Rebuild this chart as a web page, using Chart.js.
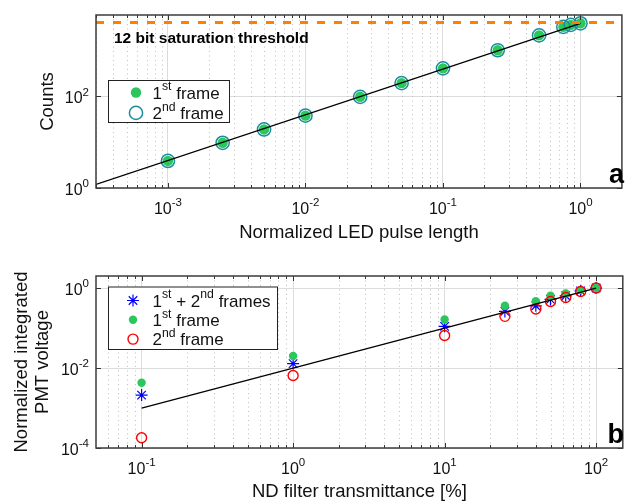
<!DOCTYPE html>
<html>
<head>
<meta charset="utf-8">
<script src="https://cdn.jsdelivr.net/npm/chart.js@4.4.1/dist/chart.umd.min.js"></script>
<style>
  html, body { margin: 0; padding: 0; background: #fff; overflow: hidden; width: 627px; height: 503px; }
  canvas { position: absolute; left: 0; }
  #ledChart { top: 0; }
  #ndChart { top: 250px; }
</style>
</head>
<body>
<canvas id="ledChart" width="630" height="250"></canvas>
<canvas id="ndChart" width="630" height="253"></canvas>
<script>
// --- panel a: LED pulse length scan ---
const pulseLength = [0.001, 0.0025, 0.005, 0.01, 0.025, 0.05, 0.1, 0.25, 0.5, 0.75, 0.85, 1];
const countsFirst = [3.9, 9.7, 19, 38, 98, 195, 410, 1020, 2150, 3300, 3650, 3950];
const countsSecond = [3.9, 9.7, 19, 38, 98, 195, 410, 1020, 2150, 3300, 3650, 3950];
const pulseFitX = [3e-4, 1];
const pulseFitY = [1.2, 3950];
const saturation = 4095;
const pulseRange = [3e-4, 2];
const countsRange = [1, 6000];
const pulseTicks = [1e-3, 1e-2, 1e-1, 1];
const countsTicks = [1, 100];

// --- panel b: ND filter scan ---
const transmittance = [0.1, 1, 10, 25, 40, 50, 63, 79, 100];
const pmtBoth = [0.0021, 0.0129, 0.11, 0.26, 0.36, 0.52, 0.64, 0.85, 1.0];
const pmtFirst = [0.0043, 0.020, 0.163, 0.36, 0.47, 0.64, 0.73, 0.89, 1.0];
const pmtSecond = [0.00018, 0.0065, 0.065, 0.196, 0.30, 0.46, 0.58, 0.82, 1.0];
const ndFitX = [0.1, 100];
const ndFitY = [0.001, 1];
const ndRange = [0.05, 150];
const pmtRange = [1e-4, 2];
const ndTicks = [0.1, 1, 10, 100];
const pmtTicks = [1e-4, 1e-2, 1];

const FONT = '"Liberation Sans", Arial, Helvetica, sans-serif';
Chart.defaults.font.family = FONT;
Chart.defaults.color = '#111';

const pts = (xs, ys) => xs.map((x, i) => ({ x, y: ys[i] }));

// text with ^{...} superscripts
function drawRich(ctx, str, x, y, size, align, bold) {
  const parts = [];
  str.split(/(\^\{[^}]*\})/).forEach(s => {
    if (!s) return;
    if (s.startsWith('^{')) parts.push({ t: s.slice(2, -1), sup: true });
    else parts.push({ t: s, sup: false });
  });
  const fontOf = p => `${bold ? 'bold ' : ''}${p.sup ? size * 0.72 : size}px ${FONT}`;
  let w = 0;
  parts.forEach(p => { ctx.font = fontOf(p); p.w = ctx.measureText(p.t).width; w += p.w; });
  let cx = align === 'center' ? x - w / 2 : align === 'right' ? x - w : x;
  ctx.textAlign = 'left';
  ctx.textBaseline = 'alphabetic';
  parts.forEach(p => {
    ctx.font = fontOf(p);
    ctx.fillText(p.t, cx, p.sup ? y - size * 0.48 : y);
    cx += p.w;
  });
}

function buildTicks(scale, majors, withMinor) {
  const ticks = majors.map(v => ({ value: v, major: true }));
  if (withMinor) {
    const lo = Math.floor(Math.log10(scale.min)), hi = Math.ceil(Math.log10(scale.max));
    for (let e = lo; e <= hi; e++) {
      for (let m = 2; m <= 9; m++) {
        const v = m * Math.pow(10, e);
        if (v > scale.min && v < scale.max) ticks.push({ value: v, major: false });
      }
    }
  }
  ticks.sort((a, b) => a.value - b.value);
  scale.ticks = ticks;
}

function drawMarker(ctx, ds, x, y) {
  const r = ds.pointRadius;
  ctx.save();
  ctx.lineWidth = ds.borderWidth || 1;
  ctx.strokeStyle = ds.borderColor;
  ctx.fillStyle = ds.backgroundColor;
  ctx.beginPath();
  if (ds.pointStyle === 'star') {
    for (let k = 0; k < 4; k++) {
      const a = k * Math.PI / 4;
      ctx.moveTo(x + r * Math.cos(a), y + r * Math.sin(a));
      ctx.lineTo(x - r * Math.cos(a), y - r * Math.sin(a));
    }
    ctx.stroke();
  } else {
    ctx.arc(x, y, r, 0, Math.PI * 2);
    ctx.fill();
    if (ds.borderWidth) ctx.stroke();
  }
  ctx.restore();
}

const line = (ctx, x1, y1, x2, y2) => { ctx.beginPath(); ctx.moveTo(x1, y1); ctx.lineTo(x2, y2); ctx.stroke(); };

const framePlugin = {
  id: 'frame',
  beforeDatasetsDraw(chart) {
    const { ctx, chartArea: a, scales: { x } } = chart;
    ctx.save();
    ctx.strokeStyle = '#bdbdbd';
    ctx.lineWidth = 1;
    ctx.setLineDash([1, 3.5]);
    x.ticks.filter(t => !t.major).forEach(t => {
      const px = Math.round(x.getPixelForValue(t.value)) + 0.5;
      line(ctx, px, a.top, px, a.bottom);
    });
    ctx.restore();
  },
  afterDraw(chart, args, opts) {
    const { ctx, chartArea: a, scales: { x, y } } = chart;
    ctx.save();
    // inward ticks
    ctx.strokeStyle = '#333';
    ctx.lineWidth = 1;
    x.ticks.forEach(t => {
      const px = Math.round(x.getPixelForValue(t.value)) + 0.5;
      const len = t.major ? 5 : 3;
      line(ctx, px, a.bottom, px, a.bottom - len);
      line(ctx, px, a.top, px, a.top + len);
    });
    y.ticks.forEach(t => {
      const py = Math.round(y.getPixelForValue(t.value)) + 0.5;
      line(ctx, a.left, py, a.left + 5, py);
      line(ctx, a.right, py, a.right - 5, py);
    });
    // box
    ctx.lineWidth = 1.5;
    ctx.strokeStyle = '#3c3c3c';
    ctx.strokeRect(a.left, a.top, a.right - a.left, a.bottom - a.top);

    // tick labels
    ctx.fillStyle = '#111';
    x.ticks.filter(t => t.major).forEach(t => {
      drawRich(ctx, '10^{' + Math.round(Math.log10(t.value)) + '}', x.getPixelForValue(t.value), a.bottom + 26, 16, 'center');
    });
    y.ticks.forEach(t => {
      drawRich(ctx, '10^{' + Math.round(Math.log10(t.value)) + '}', a.left - 7, y.getPixelForValue(t.value) + 7, 16, 'right');
    });

    // legend
    const lg = opts.legend;
    ctx.fillStyle = '#fff';
    ctx.fillRect(lg.x, lg.y, lg.w, lg.h);
    ctx.strokeStyle = '#222';
    ctx.lineWidth = 1;
    ctx.strokeRect(lg.x + 0.5, lg.y + 0.5, lg.w, lg.h);
    chart.data.datasets.filter(d => d.inLegend).forEach((ds, i) => {
      const ry = lg.y + lg.first + i * lg.rowH;
      drawMarker(ctx, ds, lg.x + lg.markerX, ry);
      ctx.fillStyle = '#111';
      drawRich(ctx, ds.label, lg.x + lg.textX, ry + 6, 17, 'left');
    });

    // panel letter
    ctx.fillStyle = '#000';
    ctx.font = `bold 27px ${FONT}`;
    ctx.textAlign = 'right';
    ctx.textBaseline = 'alphabetic';
    ctx.fillText(opts.letter, 624, a.bottom - 5);

    if (opts.note) {
      ctx.font = `bold 15.5px ${FONT}`;
      ctx.textAlign = 'left';
      ctx.fillText(opts.note.text, opts.note.x, opts.note.y);
    }
    ctx.restore();
  }
};

function logAxis(range, majors, withMinor, size, title) {
  return {
    type: 'logarithmic',
    min: range[0],
    max: range[1],
    bounds: 'data',
    afterBuildTicks: s => buildTicks(s, majors, withMinor),
    afterFit: s => { if (s.isHorizontal()) s.height = size; else s.width = size; },
    ticks: { display: false },
    grid: {
      color: c => (c.tick && c.tick.major) ? '#dcdcdc' : 'rgba(0,0,0,0)',
      lineWidth: 1,
      drawTicks: false
    },
    border: { display: false },
    title: title
  };
}

// --- panel a ---
new Chart(document.getElementById('ledChart'), {
  type: 'scatter',
  data: {
    datasets: [
      {
        label: 'saturation',
        data: pts(pulseRange, [saturation, saturation]),
        showLine: true, borderColor: '#ff8000', borderWidth: 3, borderDash: [8, 9],
        pointRadius: 0, order: -1
      },
      {
        label: 'fit',
        data: pts(pulseFitX, pulseFitY),
        showLine: true, borderColor: '#000', borderWidth: 1.3, pointRadius: 0, order: 0
      },
      {
        label: '1^{st} frame', inLegend: true,
        data: pts(pulseLength, countsFirst),
        pointStyle: 'circle', pointRadius: 5.2, backgroundColor: '#2bc75c', borderColor: '#2bc75c', borderWidth: 0,
        order: 2
      },
      {
        label: '2^{nd} frame', inLegend: true,
        data: pts(pulseLength, countsSecond),
        pointStyle: 'circle', pointRadius: 6.6, backgroundColor: 'rgba(0,0,0,0)', borderColor: '#1b8ca0', borderWidth: 1.5,
        order: 1
      }
    ]
  },
  options: {
    responsive: false,
    devicePixelRatio: 1,
    animation: false,
    events: [],
    layout: { padding: { top: 15, left: 0, right: 0, bottom: 0 } },
    plugins: {
      legend: { display: false },
      tooltip: { enabled: false },
      frame: {
        letter: 'a',
        note: { text: '12 bit saturation threshold', x: 114, y: 42.5 },
        legend: { x: 108, y: 80, w: 121, h: 42, first: 12.5, rowH: 20.4, markerX: 28, textX: 44.5 }
      }
    },
    scales: {
      x: logAxis(pulseRange, pulseTicks, true, 62,
        { display: true, text: 'Normalized LED pulse length', font: { size: 18.5 }, color: '#111', padding: { top: 0, bottom: 6 } }),
      y: logAxis(countsRange, countsTicks, false, 96,
        { display: true, text: 'Counts', font: { size: 18.5 }, color: '#111', padding: { top: 37, bottom: 0 } })
    }
  },
  plugins: [framePlugin]
});

// --- panel b ---
new Chart(document.getElementById('ndChart'), {
  type: 'scatter',
  data: {
    datasets: [
      {
        label: 'fit',
        data: pts(ndFitX, ndFitY),
        showLine: true, borderColor: '#000', borderWidth: 1.3, pointRadius: 0, order: 0
      },
      {
        label: '1^{st} + 2^{nd} frames', inLegend: true,
        data: pts(transmittance, pmtBoth),
        pointStyle: 'star', pointRadius: 6, backgroundColor: 'rgba(0,0,0,0)', borderColor: '#0000ff', borderWidth: 1.2,
        order: 3
      },
      {
        label: '1^{st} frame', inLegend: true,
        data: pts(transmittance, pmtFirst),
        pointStyle: 'circle', pointRadius: 4.2, backgroundColor: '#2bc75c', borderColor: '#2bc75c', borderWidth: 0,
        order: 2
      },
      {
        label: '2^{nd} frame', inLegend: true,
        data: pts(transmittance, pmtSecond),
        pointStyle: 'circle', pointRadius: 5, backgroundColor: 'rgba(0,0,0,0)', borderColor: '#ff0000', borderWidth: 1.4,
        order: 1
      }
    ]
  },
  options: {
    responsive: false,
    devicePixelRatio: 1,
    animation: false,
    events: [],
    layout: { padding: { top: 26, left: 0, right: 0, bottom: 0 } },
    plugins: {
      legend: { display: false },
      tooltip: { enabled: false },
      frame: {
        letter: 'b',
        legend: { x: 108, y: 36.5, w: 169, h: 62.5, first: 14, rowH: 19.3, markerX: 25, textX: 44.5 }
      }
    },
    scales: {
      x: logAxis(ndRange, ndTicks, true, 55,
        { display: true, text: 'ND filter transmittance [%]', font: { size: 18.5 }, color: '#111', padding: { top: 0, bottom: 0 } }),
      y: logAxis(pmtRange, pmtTicks, false, 96,
        { display: true, text: ['Normalized integrated', 'PMT voltage'], font: { size: 18.5, lineHeight: 1.1 }, color: '#111', padding: { top: 12, bottom: 0 } })
    }
  },
  plugins: [framePlugin]
});
</script>
</body>
</html>
